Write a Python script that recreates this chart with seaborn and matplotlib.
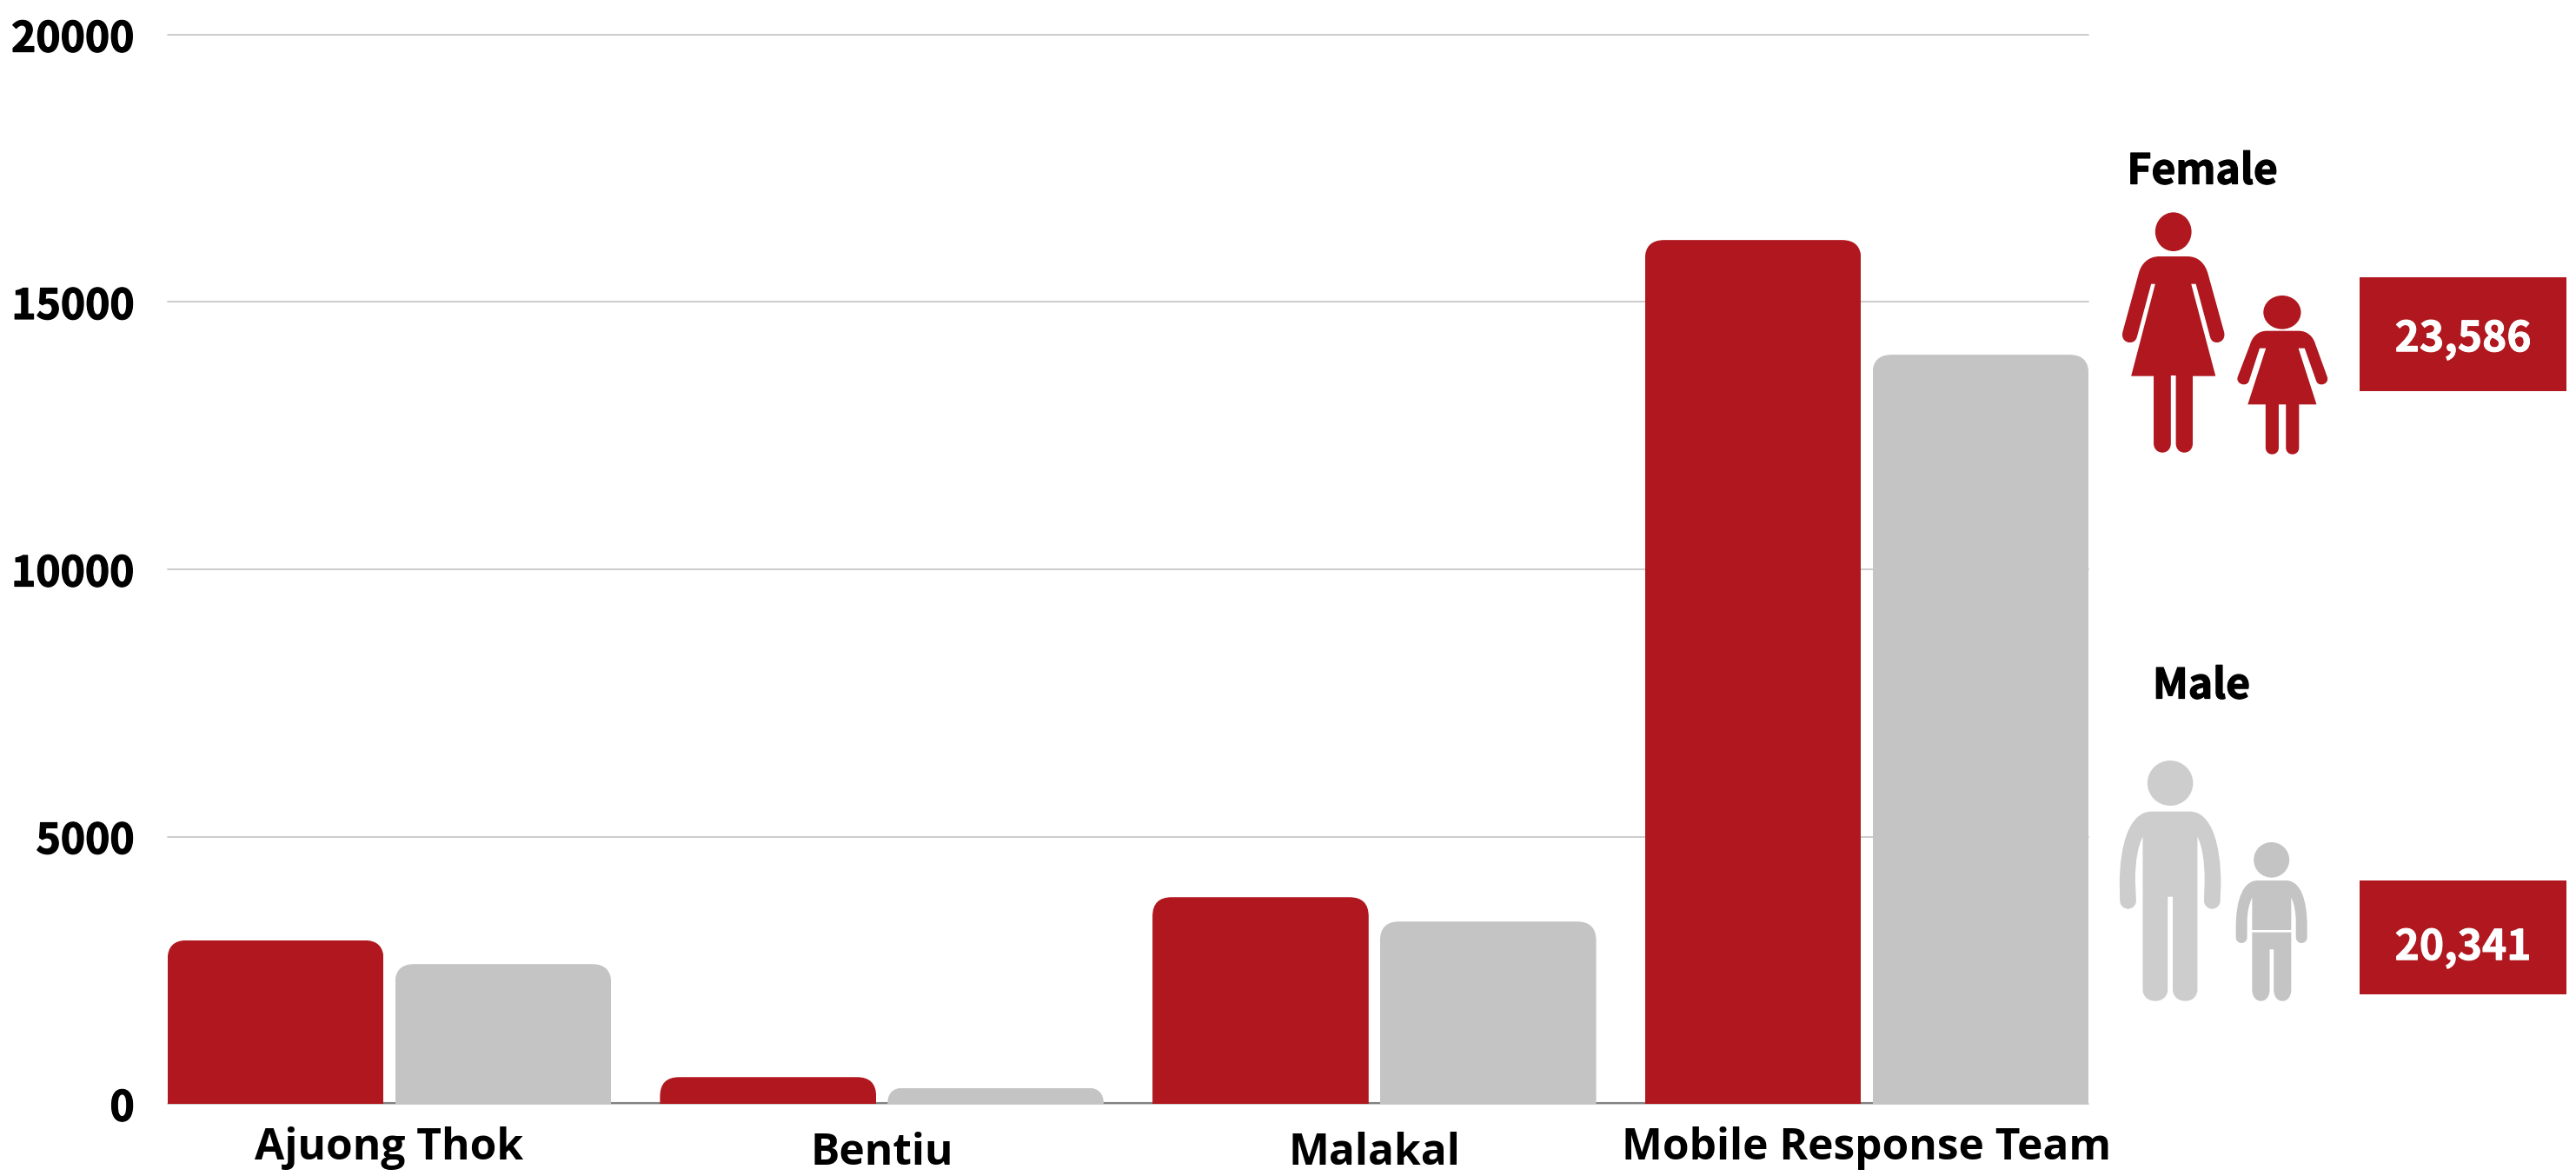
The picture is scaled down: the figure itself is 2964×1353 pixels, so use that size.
import matplotlib
matplotlib.use("Agg")
import matplotlib.pyplot as plt
import matplotlib.patheffects as pe
from matplotlib.patches import Ellipse, PathPatch, Rectangle
from matplotlib.path import Path
from matplotlib.transforms import Affine2D
import pandas as pd
import seaborn as sns

# ---- data -----------------------------------------------------------------
sites = ["Ajuong Thok", "Bentiu", "Malakal", "Mobile Response Team"]
female = [3060, 500, 3866, 16160]
male = [2615, 300, 3411, 14015]
yticks = [0, 5000, 10000, 15000, 20000]
female_total = "23,586"
male_total = "20,341"

RED = "#b0171f"
GREY = "#c4c4c4"
W, H = 2964, 1353
DPI = 100

sns.set_theme(style="white")
FONT = ["Noto Sans CJK SC", "DejaVu Sans"]
plt.rcParams["font.family"] = FONT
plt.rcParams["font.weight"] = "bold"

fig = plt.figure(figsize=(W / DPI, H / DPI), dpi=DPI, facecolor="white")
AX_L, AX_R, AX_T, AX_B = 193, 2403, 40, 1270
ax = fig.add_axes([AX_L / W, 1 - AX_B / H, (AX_R - AX_L) / W, (AX_B - AX_T) / H])

df = pd.DataFrame({
    "site": sites * 2,
    "value": female + male,
    "sex": ["Female"] * 4 + ["Male"] * 4,
})
sns.barplot(data=df, x="site", y="value", hue="sex", palette=[RED, GREY],
            width=0.924, gap=0.05, saturation=1, legend=False, ax=ax, zorder=3,
            linewidth=0, errorbar=None)
ax.set_xlim(-0.45, 3.45)
ax.set_ylim(0, 20000)
ax.set_xlabel("")
ax.set_ylabel("")
ax.set_yticks(yticks)
ax.set_yticklabels([str(v) for v in yticks])
ax.yaxis.grid(True, color="#c8c8c8", linewidth=1.3, zorder=0, clip_on=False)
ax.set_axisbelow(True)
ax.xaxis.grid(False)
for s in ax.spines.values():
    s.set_visible(False)
y_per_px = 20000 / (AX_B - AX_T)
ax.axhline(y_per_px, color="#808080", lw=1.5, zorder=1)
ax.tick_params(axis="y", length=0, pad=27.5, labelsize=34.5, labelcolor="black")
ax.tick_params(axis="x", length=0, pad=0, labelsize=35.7, labelcolor="black")
HEAVY = [pe.withStroke(linewidth=0.9, foreground="black")]
HEAVY_W = [pe.withStroke(linewidth=0.7, foreground="white")]
# category labels sit on two slightly different baselines in the reference
label_drop_px = [64, 70, 70, 64]
for lab, drop in zip(ax.get_xticklabels(), label_drop_px):
    lab.set_family(["Open Sans", "DejaVu Sans"])
    lab.set_fontweight("bold")
    lab.set_va("baseline")
    lab.set_transform(lab.get_transform() + Affine2D().translate(0, -drop))
for lab in ax.get_yticklabels():
    lab.set_path_effects(HEAVY)

# rounded top corners: clip each seaborn bar to a rounded outline
R_PX = 22
x_per_px = (ax.get_xlim()[1] - ax.get_xlim()[0]) / (AX_R - AX_L)
rx, ry = R_PX * x_per_px, R_PX * y_per_px
for bar in ax.patches:
    if bar.get_height() <= 0:
        continue
    x0, x1 = bar.get_x(), bar.get_x() + bar.get_width()
    h = bar.get_height()
    r = min(ry, h)
    rr = rx * r / ry
    verts = [(x0, -50), (x0, h - r), (x0, h), (x0 + rr, h), (x1 - rr, h),
             (x1, h), (x1, h - r), (x1, -50), (x0, -50)]
    codes = [Path.MOVETO, Path.LINETO, Path.CURVE3, Path.CURVE3, Path.LINETO,
             Path.CURVE3, Path.CURVE3, Path.LINETO, Path.CLOSEPOLY]
    bar.set_clip_path(Path(verts, codes), ax.transData)

# ---- overlay in reference pixels for pictograms and totals ----------------
ov = fig.add_axes([0, 0, 1, 1], facecolor="none")
ov.set_xlim(0, W)
ov.set_ylim(H, 0)
ov.axis("off")


def shape(ops, ox, oy, color):
    """Silhouette described in crop coordinates (2.78 x, 3 y per reference pixel)."""
    tx = lambda x: ox + x / 2.78
    ty = lambda y: oy + y / 3
    v, c = [], []
    for op in ops:
        k, pts = op[0], op[1:]
        xy = [(tx(pts[i]), ty(pts[i + 1])) for i in range(0, len(pts), 2)]
        code = {"M": [Path.MOVETO], "L": [Path.LINETO],
                "Q": [Path.CURVE3] * 2, "C": [Path.CURVE4] * 3}[k]
        v += xy
        c += code
    v.append(v[0])
    c.append(Path.CLOSEPOLY)
    ov.add_patch(PathPatch(Path(v, c), fc=color, ec="none", lw=0))


def head(cx, cy, rx_, ry_, ox, oy, color):
    ov.add_patch(Ellipse((ox + cx / 2.78, oy + cy / 3), 2 * rx_ / 2.78, 2 * ry_ / 3,
                         fc=color, ec="none"))


# woman
OX, OY = 2400, 150
head(280, 350, 58, 67, OX, OY, RED)
shape([("M", 235, 435), ("L", 325, 435), ("C", 360, 435, 383, 460, 392, 500),
       ("L", 442, 695), ("C", 448, 720, 432, 732, 420, 732), ("C", 408, 732, 402, 727, 398, 715),
       ("L", 352, 530), ("L", 337, 530), ("L", 415, 848), ("L", 342, 848), ("L", 342, 1080),
       ("C", 342, 1100, 330, 1112, 315, 1112), ("C", 300, 1112, 288, 1100, 288, 1080),
       ("L", 288, 846), ("L", 272, 846), ("L", 272, 1080),
       ("C", 272, 1100, 260, 1112, 245, 1112), ("C", 230, 1112, 217, 1100, 217, 1080),
       ("L", 217, 848), ("L", 145, 848), ("L", 222, 530), ("L", 209, 530), ("L", 163, 715),
       ("C", 159, 727, 152, 732, 140, 732), ("C", 128, 732, 112, 720, 118, 695),
       ("L", 170, 490), ("C", 178, 460, 200, 435, 235, 435)], OX, OY, RED)
# girl
head(628, 628, 60, 58, OX, OY, RED)
shape([("M", 580, 692), ("L", 680, 692), ("C", 708, 692, 727, 710, 735, 740),
       ("L", 772, 850), ("C", 777, 865, 767, 877, 754, 877), ("C", 745, 877, 740, 873, 737, 865),
       ("L", 700, 752), ("L", 680, 752), ("L", 738, 946), ("L", 682, 946), ("L", 682, 1095),
       ("C", 682, 1110, 672, 1118, 661, 1118), ("C", 650, 1118, 640, 1110, 640, 1095),
       ("L", 640, 946), ("L", 617, 946), ("L", 617, 1095),
       ("C", 617, 1110, 607, 1118, 596, 1118), ("C", 585, 1118, 575, 1110, 575, 1095),
       ("L", 575, 946), ("L", 518, 946), ("L", 576, 752), ("L", 556, 752), ("L", 522, 865),
       ("C", 519, 873, 514, 877, 505, 877), ("C", 492, 877, 481, 865, 486, 850),
       ("L", 525, 740), ("C", 533, 710, 552, 692, 580, 692)], OX, OY, RED)

# man
OX, OY = 2400, 750
MAN, BOY = "#cdcdcd", GREY
head(270, 453, 73, 78, OX, OY, MAN)
shape([("M", 210, 551), ("L", 333, 551), ("C", 400, 551, 432, 660, 432, 800),
       ("L", 430, 858), ("C", 430, 875, 418, 887, 404, 887), ("C", 390, 887, 378, 875, 378, 858),
       ("L", 380, 790), ("C", 380, 720, 372, 670, 357, 638),
       ("L", 357, 1165), ("C", 357, 1190, 340, 1205, 318, 1205), ("C", 296, 1205, 278, 1190, 278, 1165),
       ("L", 278, 845), ("L", 262, 845), ("L", 262, 1165),
       ("C", 262, 1190, 244, 1205, 222, 1205), ("C", 200, 1205, 182, 1190, 182, 1165),
       ("L", 182, 638), ("C", 167, 670, 158, 720, 158, 790), ("L", 161, 858),
       ("C", 161, 875, 149, 887, 135, 887), ("C", 121, 887, 109, 875, 109, 858),
       ("L", 108, 800), ("C", 108, 660, 142, 551, 210, 551)], OX, OY, MAN)
# boy
head(594, 718, 57, 61, OX, OY, BOY)
shape([("M", 550, 789), ("L", 640, 789), ("C", 685, 789, 708, 850, 708, 950),
       ("L", 708, 985), ("C", 708, 997, 700, 1005, 690, 1005), ("C", 680, 1005, 672, 997, 672, 985),
       ("L", 672, 935), ("C", 672, 900, 667, 870, 657, 848),
       ("L", 657, 960), ("L", 532, 960), ("L", 532, 848), ("C", 522, 870, 516, 900, 516, 935),
       ("L", 516, 985), ("C", 516, 997, 508, 1005, 498, 1005), ("C", 488, 1005, 480, 997, 480, 985),
       ("L", 480, 950), ("C", 480, 850, 505, 789, 550, 789)], OX, OY, BOY)
shape([("M", 532, 968), ("L", 657, 968), ("L", 657, 1165),
       ("C", 657, 1190, 645, 1205, 629, 1205), ("C", 613, 1205, 601, 1190, 601, 1165),
       ("L", 601, 1027), ("L", 588, 1027), ("L", 588, 1165),
       ("C", 588, 1190, 576, 1205, 560, 1205), ("C", 544, 1205, 532, 1190, 532, 1165)], OX, OY, BOY)

# total boxes and labels
for y0, y1, label, ty_ in [(319, 450, female_total, 385), (1013, 1144, male_total, 1085)]:
    ov.add_patch(Rectangle((2715, y0), 238, y1 - y0, fc=RED, ec="none"))
    ov.text(2834, ty_, label, color="white", fontsize=34.5, ha="center",
            va="center_baseline", path_effects=HEAVY_W)
ov.text(2534, 192, "Female", color="black", fontsize=34.5, ha="center",
        va="center_baseline", path_effects=HEAVY)
ov.text(2533, 784, "Male", color="black", fontsize=34.5, ha="center",
        va="center_baseline", path_effects=HEAVY)

fig.savefig("out.png", dpi=DPI, facecolor="white")
